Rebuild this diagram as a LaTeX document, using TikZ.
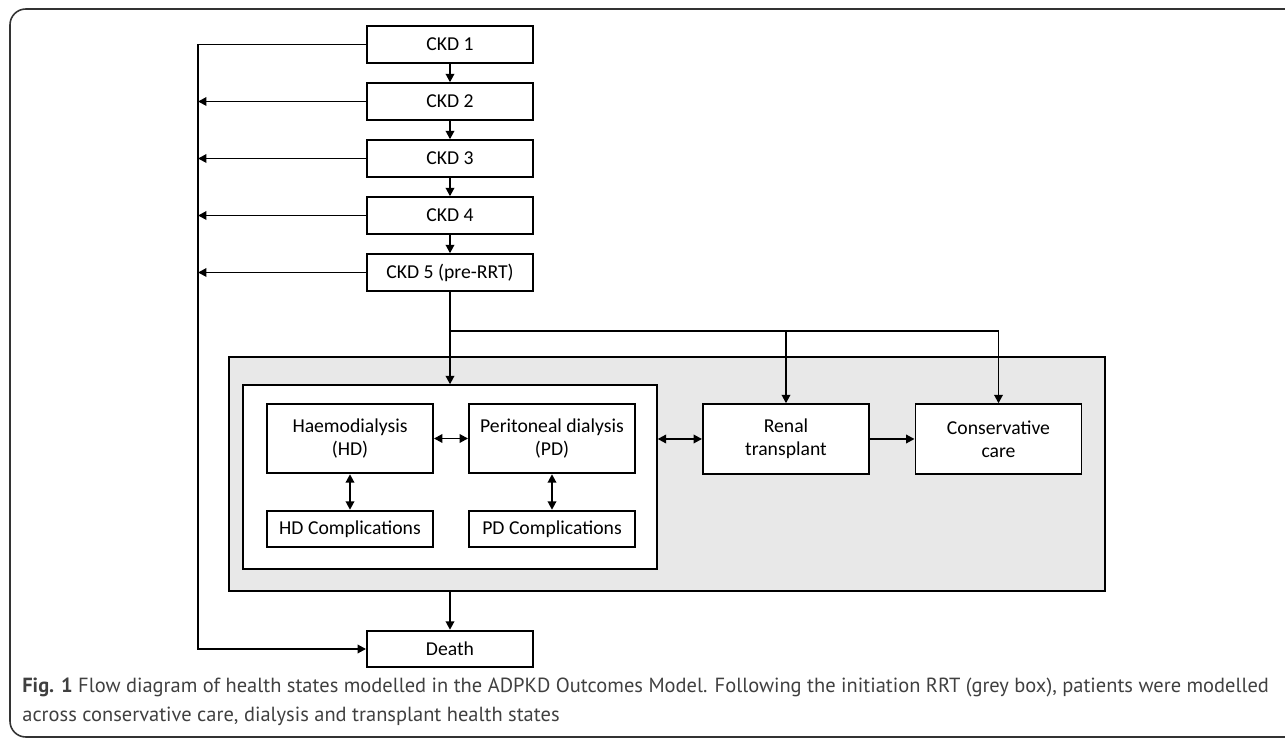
\documentclass[tikz,border=0pt]{standalone}
\usepackage{fontspec}
\setmainfont{Carlito}
\newfontfamily\capfont{PT Sans}
\usetikzlibrary{arrows.meta}
\definecolor{rrtgrey}{HTML}{E8E8E8}
\definecolor{framegrey}{HTML}{333333}

\begin{document}
\begin{tikzpicture}[x=0.02cm, y=-0.02cm,
  state/.style={draw, fill=white, line width=1.1pt, inner sep=0pt, align=center,
    minimum width=3.32cm, font=\fontsize{11.2}{13}\selectfont},
  onerow/.style={state, minimum height=0.73cm},
  tworow/.style={state, minimum height=1.39cm},
  arr/.style={line width=1.1pt, -{Triangle[length=4.8pt,width=4.8pt]}},
  dbl/.style={line width=1.1pt, {Triangle[length=4.8pt,width=4.8pt]}-{Triangle[length=4.8pt,width=4.8pt]}},
  capline/.style={anchor=west, inner sep=0pt, text=black!75, font=\fontsize{11.65}{13}\capfont}]
\useasboundingbox (0,0) rectangle (1285,739);
\draw[framegrey, line width=0.9pt, rounded corners=9pt] (10,9) rectangle (1310,737);

% RRT block
\node[draw, fill=rrtgrey, line width=1.1pt, minimum width=17.52cm, minimum height=4.68cm] (rrt) at (667,474){};
\node[draw, fill=white, line width=0.8pt, minimum width=8.28cm, minimum height=3.68cm] (dial) at (450,477){};

% CKD stages
\node[onerow] (ckd1) at (450,44.5){CKD 1};
\node[onerow] (ckd2) at (450,101.5){CKD 2};
\node[onerow] (ckd3) at (450,158.5){CKD 3};
\node[onerow] (ckd4) at (450,215.5){CKD 4};
\node[onerow] (ckd5) at (450,272.5){CKD 5 (pre-RRT)};
\draw[arr](ckd1) -- (ckd2);
\draw[arr](ckd2) -- (ckd3);
\draw[arr](ckd3) -- (ckd4);
\draw[arr](ckd4) -- (ckd5);

% death
\node[onerow] (death) at (450,649){Death};
\coordinate (rail) at (198,649);
\draw[arr](ckd1.west) -| (rail) -- (death.west);
\draw[arr](ckd2.west) -- (ckd2.west -| rail);
\draw[arr](ckd3.west) -- (ckd3.west -| rail);
\draw[arr](ckd4.west) -- (ckd4.west -| rail);
\draw[arr](ckd5.west) -- (ckd5.west -| rail);
\draw[arr](rrt.south -| death.north) -- (death.north);

% RRT states
\node[tworow] (hd) at (350,438.5){Haemodialysis\\(HD)};
\node[tworow] (pd) at (552,438.5){Peritoneal dialysis\\(PD)};
\node[onerow] (hdc) at (350,529){HD Complications};
\node[onerow] (pdc) at (552,529){PD Complications};
\node[tworow] (tx) at (786,439){Renal\\transplant};
\node[tworow] (cc) at (998.5,439){Conservative\\care};
\draw[dbl](hd) -- (pd);
\draw[dbl](hd) -- (hdc);
\draw[dbl](pd) -- (pdc);
\draw[dbl](tx.west -| dial.east) -- (tx.west);
\draw[arr](tx) -- (cc);

% entry into RRT
\coordinate (split) at (450,331);
\draw[arr](ckd5) -- (dial.north);
\draw[arr](split) -| (tx.north);
\draw[arr](split) -| (cc.north);

% caption
\node[capline] (cap1) at (22,687){\textbf{Fig. 1} Flow diagram of health states modelled in the ADPKD Outcomes Model. Following the initiation RRT (grey box), patients were modelled};
\node[capline] (cap2) at (22,716){across conservative care, dialysis and transplant health states};
\end{tikzpicture}
\end{document}
